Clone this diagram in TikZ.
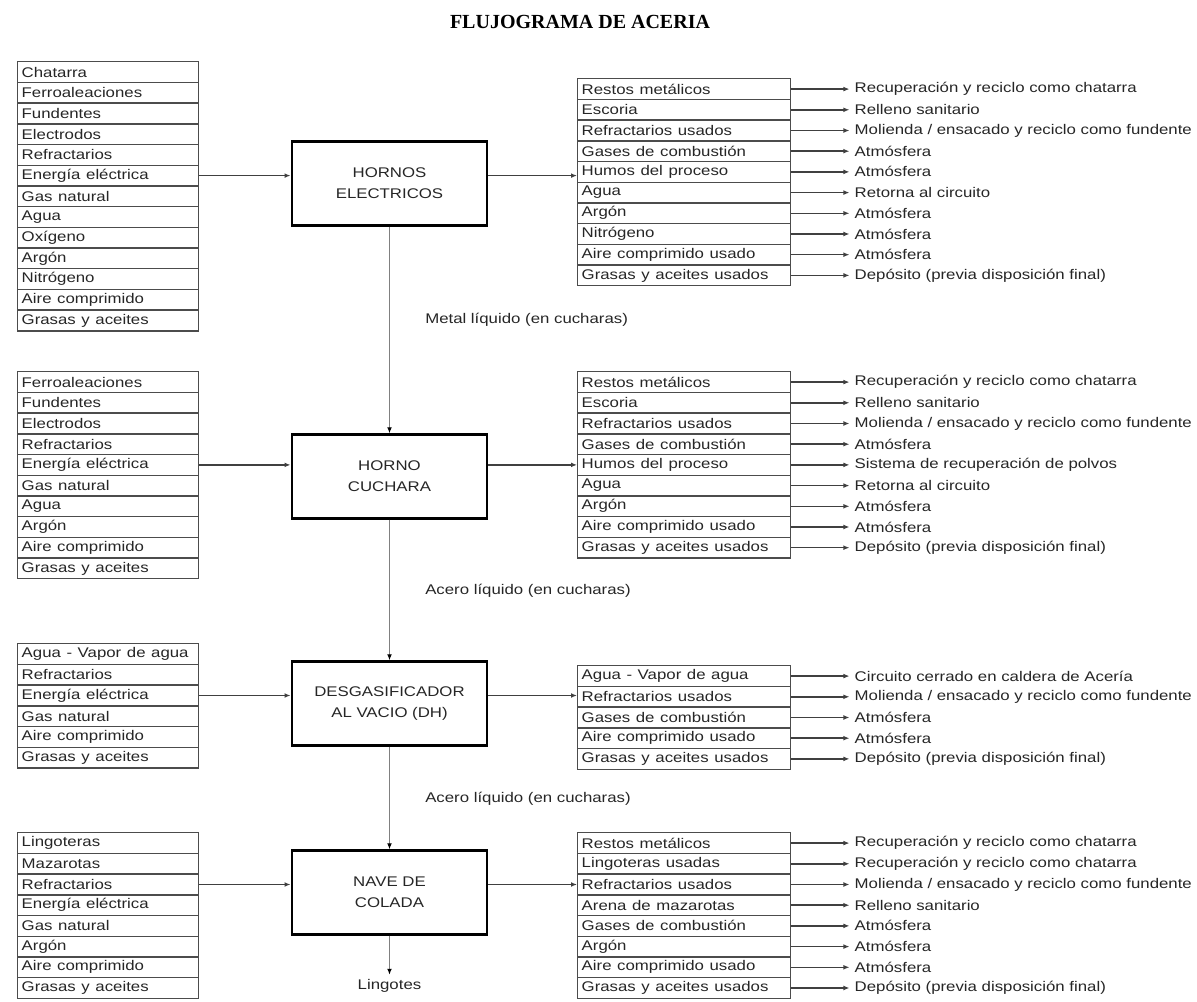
\documentclass[tikz,border=0pt]{standalone}
\usepackage{fontspec}
\usepackage{graphicx}
\setmainfont{Liberation Sans}
\newfontfamily\titlefont{Liberation Serif}
\usetikzlibrary{arrows.meta}
\newcommand{\wt}[1]{\scalebox{1.2}[1]{#1}}
\newcommand{\slashx}{/}
\begin{document}
\begin{tikzpicture}[x=0.75pt,y=-0.75pt,
  every node/.style={font=\fontsize{10.5pt}{12pt}\selectfont, text=black!85},
  rowin/.style={draw=black!70, line width=1.1pt, anchor=north west, minimum height=15.525pt,
    text width=129.75pt, inner xsep=3pt, inner ysep=0pt, align=left},
  rowout/.style={rowin, text width=153.75pt},
  dest/.style={anchor=west, inner xsep=3.75pt, inner ysep=0pt},
  blk/.style={draw=black, line width=2.2pt, minimum width=146.25pt, minimum height=62.5pt,
    align=center, font=\fontsize{10.5pt}{16pt}\selectfont},
  arr/.style={draw=black!75, line width=1.1pt, -{Latex[length=4.5pt,width=3.6pt]}},
  varr/.style={draw=black!50, line width=1.1pt, -{Latex[length=4.5pt,width=3.6pt,color=black]}},
  lbl/.style={anchor=west, inner sep=0pt}
]
\fill[white] (0,0) rectangle (1197,1001);
\useasboundingbox (0,0) rectangle (1197,1001);

% title
\node[font=\titlefont\bfseries\fontsize{15pt}{17pt}\selectfont, text=black] (title) at (580,22) {FLUJOGRAMA DE ACERIA};

% ---------------- blocks
\node[blk] (b1) at (389.5,183.5) {\wt{HORNOS}\\\wt{ELECTRICOS}};
\node[blk] (b2) at (389.5,476.5) {\wt{HORNO}\\\wt{CUCHARA}};
\node[blk] (b3) at (389.5,703.5) {\wt{DESGASIFICADOR}\\\wt{AL VACIO (DH)}};
\node[blk] (b4) at (389.5,892.5) {\wt{NAVE DE}\\\wt{COLADA}};

% ---------------- group 1
\foreach \t [count=\n] in {Chatarra,Ferroaleaciones,Fundentes,Electrodos,Refractarios,Energía eléctrica,Gas natural,Agua,Oxígeno,Argón,Nitrógeno,Aire comprimido,Grasas y aceites}
  \node[rowin] (i1-\n) at (17,{61+(\n-1)*20.7}) {\wt{\t}};
\foreach \a/\b [count=\n] in {Restos metálicos/Recuperación y reciclo como chatarra,
  Escoria/Relleno sanitario,
  Refractarios usados/Molienda \slashx{} ensacado y reciclo como fundente,
  Gases de combustión/Atmósfera,
  Humos del proceso/Atmósfera,
  Agua/Retorna al circuito,
  Argón/Atmósfera,
  Nitrógeno/Atmósfera,
  Aire comprimido usado/Atmósfera,
  Grasas y aceites usados/Depósito (previa disposición final)}
{
  \node[rowout] (o1-\n) at (577,{78+(\n-1)*20.7}) {\wt{\a}};
  \node[dest] (d1-\n) at ([xshift=43.5pt]o1-\n.east) {\wt{\b}};
  \draw[arr] (o1-\n.east) -- (d1-\n.west);
}
\draw[arr] (i1-6.east) -- (i1-6.east -| b1.west);
\draw[arr] (i1-6.east -| b1.east) -- (i1-6.east -| o1-5.west);

% ---------------- group 2
\foreach \t [count=\n] in {Ferroaleaciones,Fundentes,Electrodos,Refractarios,Energía eléctrica,Gas natural,Agua,Argón,Aire comprimido,Grasas y aceites}
  \node[rowin] (i2-\n) at (17,{371+(\n-1)*20.7}) {\wt{\t}};
\foreach \a/\b [count=\n] in {Restos metálicos/Recuperación y reciclo como chatarra,
  Escoria/Relleno sanitario,
  Refractarios usados/Molienda \slashx{} ensacado y reciclo como fundente,
  Gases de combustión/Atmósfera,
  Humos del proceso/Sistema de recuperación de polvos,
  Agua/Retorna al circuito,
  Argón/Atmósfera,
  Aire comprimido usado/Atmósfera,
  Grasas y aceites usados/Depósito (previa disposición final)}
{
  \node[rowout] (o2-\n) at (577,{371+(\n-1)*20.7}) {\wt{\a}};
  \node[dest] (d2-\n) at ([xshift=43.5pt]o2-\n.east) {\wt{\b}};
  \draw[arr] (o2-\n.east) -- (d2-\n.west);
}
\draw[arr] (i2-5.east) -- (i2-5.east -| b2.west);
\draw[arr] (i2-5.east -| b2.east) -- (i2-5.east -| o2-5.west);

% ---------------- group 3
\foreach \t [count=\n] in {Agua - Vapor de agua,Refractarios,Energía eléctrica,Gas natural,Aire comprimido,Grasas y aceites}
  \node[rowin] (i3-\n) at (17,{643+(\n-1)*20.7}) {\wt{\t}};
\foreach \a/\b [count=\n] in {Agua - Vapor de agua/Circuito cerrado en caldera de Acería,
  Refractarios usados/Molienda \slashx{} ensacado y reciclo como fundente,
  Gases de combustión/Atmósfera,
  Aire comprimido usado/Atmósfera,
  Grasas y aceites usados/Depósito (previa disposición final)}
{
  \node[rowout] (o3-\n) at (577,{665+(\n-1)*20.7}) {\wt{\a}};
  \node[dest] (d3-\n) at ([xshift=43.5pt]o3-\n.east) {\wt{\b}};
  \draw[arr] (o3-\n.east) -- (d3-\n.west);
}
\draw[arr] (i3-3.east) -- (i3-3.east -| b3.west);
\draw[arr] (i3-3.east -| b3.east) -- (i3-3.east -| o3-2.west);

% ---------------- group 4
\foreach \t [count=\n] in {Lingoteras,Mazarotas,Refractarios,Energía eléctrica,Gas natural,Argón,Aire comprimido,Grasas y aceites}
  \node[rowin] (i4-\n) at (17,{832+(\n-1)*20.7}) {\wt{\t}};
\foreach \a/\b [count=\n] in {Restos metálicos/Recuperación y reciclo como chatarra,
  Lingoteras usadas/Recuperación y reciclo como chatarra,
  Refractarios usados/Molienda \slashx{} ensacado y reciclo como fundente,
  Arena de mazarotas/Relleno sanitario,
  Gases de combustión/Atmósfera,
  Argón/Atmósfera,
  Aire comprimido usado/Atmósfera,
  Grasas y aceites usados/Depósito (previa disposición final)}
{
  \node[rowout] (o4-\n) at (577,{832+(\n-1)*20.7}) {\wt{\a}};
  \node[dest] (d4-\n) at ([xshift=43.5pt]o4-\n.east) {\wt{\b}};
  \draw[arr] (o4-\n.east) -- (d4-\n.west);
}
\draw[arr] (i4-3.east) -- (i4-3.east -| b4.west);
\draw[arr] (i4-3.east -| b4.east) -- (i4-3.east -| o4-3.west);

% ---------------- vertical flow
\node[lbl] (l1) at (425,320) {\wt{Metal líquido (en cucharas)}};
\node[lbl] (l2) at (425,591) {\wt{Acero líquido (en cucharas)}};
\node[lbl] (l3) at (425,799) {\wt{Acero líquido (en cucharas)}};
\node (lin) at (389.5,986) {\wt{Lingotes}};
\draw[varr] (b1.south) -- (b2.north);
\draw[varr] (b2.south) -- (b3.north);
\draw[varr] (b3.south) -- (b4.north);
\draw[varr] (b4.south) -- (lin.north);
\end{tikzpicture}
\end{document}
